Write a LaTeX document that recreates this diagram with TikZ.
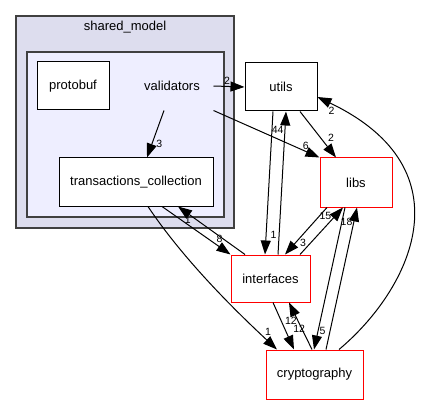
\documentclass[tikz,border=0pt]{standalone}
\usepackage{fontspec}
\setmainfont{Liberation Sans}
\usepackage{xcolor}
\definecolor{outer_lilac}{RGB}{221,221,238}
\definecolor{inner_lilac}{RGB}{238,238,255}
\definecolor{frame_gray}{RGB}{64,64,64}
\definecolor{dir_red}{RGB}{255,0,0}
\usetikzlibrary{arrows.meta}

\tikzset{
  dirbox/.style={draw=black, fill=white, line width=1pt, inner sep=0pt, minimum height=48pt, font=\fontsize{13}{15}\selectfont},
  redbox/.style={dirbox, draw=dir_red},
  outerframe/.style={draw=frame_gray, fill=outer_lilac, line width=1.3pt, inner sep=0pt},
  innerframe/.style={draw=frame_gray, fill=inner_lilac, line width=1.3pt, inner sep=0pt},
  dep/.style={-{Triangle[length=14pt,width=10pt]}, line width=1pt},
  num/.style={font=\fontsize{10.5}{12}\selectfont, inner sep=1pt}
}

\begin{document}
\begin{tikzpicture}[x=1pt, y=-1pt]
\useasboundingbox (0,0) rectangle (421,404);

\draw (125,122) node[outerframe, minimum width=218pt, minimum height=212pt] (shared_model) {};
\draw (125,27) node[font=\fontsize{13}{15}\selectfont] (shared_model_title) {shared\_model};
\draw (125.5,134.5) node[innerframe, minimum width=197pt, minimum height=165pt] (validators_frame) {};

\draw (73,86) node[dirbox, minimum width=72pt] (protobuf) {protobuf};
\draw (172,86) node[dirbox, draw=none, fill=none, minimum width=82pt] (validators) {validators};
\draw (136,182) node[dirbox, minimum width=154pt] (transactions_collection) {transactions\_collection};

\draw (281,87) node[dirbox, minimum width=72pt] (utils) {utils};
\draw (356,182.5) node[redbox, minimum width=72pt, minimum height=49pt] (libs) {libs};
\draw (270.5,278.5) node[redbox, minimum width=79pt, minimum height=47pt] (interfaces) {interfaces};
\draw (314.5,374.5) node[redbox, minimum width=97pt, minimum height=49pt] (cryptography) {cryptography};

\draw[dep] (validators.east) -- node[num, above, pos=0.44] {2} (utils.west);
\draw[dep] (validators.south east) -- node[num, above, pos=0.87] {6} (libs.north west);
\draw[dep] ([xshift=-8pt]validators.south) -- node[num, right, pos=0.72, xshift=3pt] {3} ([xshift=11pt]transactions_collection.north);

\draw[dep] ([xshift=19pt]utils.south) -- node[num, right, pos=0.57, xshift=6pt] {2} ([xshift=-20pt]libs.north);
\draw[dep] ([xshift=-8pt]utils.south) -- node[num, right, pos=0.86, xshift=3pt] {1} ([xshift=-5.5pt]interfaces.north);
\draw[dep] ([xshift=7.5pt]interfaces.north) -- node[num, left, pos=0.87] {44} ([xshift=5pt]utils.south);

\draw[dep] ([xshift=-29pt]libs.south) -- node[num, right, pos=0.75, xshift=3pt] {3} ([xshift=14.5pt]interfaces.north);
\draw[dep] ([xshift=29.5pt]interfaces.north) -- node[num, left, pos=0.83, xshift=-3pt] {15} ([xshift=-13pt]libs.south);
\draw[dep] ([xshift=-11pt]libs.south) -- node[num, right, pos=0.87] {5} ([xshift=-0.5pt]cryptography.north);
\draw[dep] ([xshift=11.5pt]cryptography.north) -- node[num, left, pos=0.9] {18} ([xshift=1pt]libs.south);

\draw[dep] ([xshift=26pt]transactions_collection.south) -- node[num, above, pos=0.84, yshift=3pt] {8} (interfaces.north west);
\draw[dep] ([xshift=-25.5pt]interfaces.north) -- node[num, left, pos=0.73, xshift=-4pt] {1} ([xshift=42pt]transactions_collection.south);
\draw[dep] ([xshift=12pt]transactions_collection.south) .. controls (185,262) and (240,315) .. ([xshift=-37.5pt]cryptography.north) node[num, xshift=-9pt, yshift=18pt] {1};

\draw[dep] ([xshift=2.5pt]interfaces.south) -- node[num, right, pos=0.56, xshift=7pt] {12} ([xshift=-20.5pt]cryptography.north);
\draw[dep] ([xshift=-2.5pt]cryptography.north) -- node[num, left, pos=0.6] {12} ([xshift=18.5pt]interfaces.south);
\draw[dep] ([xshift=24.5pt]cryptography.north) .. controls (410,290) and (470,170) .. ([yshift=-10pt]utils.east) node[num, xshift=14pt, yshift=-14pt] {2};

\end{tikzpicture}
\end{document}
